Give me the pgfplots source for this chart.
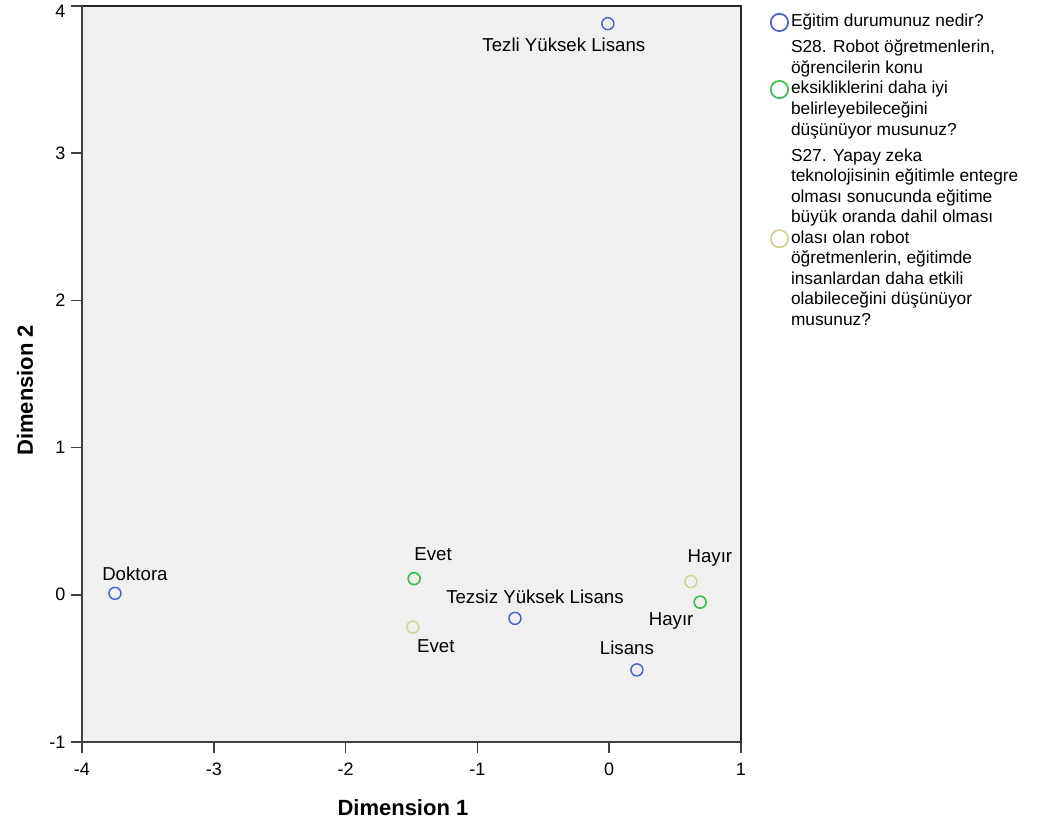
\documentclass[border=0pt]{standalone}
\usepackage{fontspec}
\setmainfont{Liberation Sans}
\usepackage{pgfplots}
\pgfplotsset{compat=1.18}
\definecolor{cblue}{RGB}{75,100,200}
\definecolor{cgreen}{RGB}{60,190,80}
\definecolor{cbeige}{RGB}{214,208,155}
\definecolor{bg}{RGB}{240,240,240}
\newcommand{\lf}{\fontsize{13pt}{15.4pt}\selectfont}
\newcommand{\pf}{\fontsize{14pt}{16pt}\selectfont}
\newsavebox\mblue \newsavebox\mgreen \newsavebox\mbeige
\sbox\mblue{\tikz[baseline=-3.25pt]\draw[cblue, line width=1.3pt] (0,0) circle (6.5pt);}
\sbox\mgreen{\tikz[baseline=-3.25pt]\draw[cgreen, line width=1.3pt] (0,0) circle (6.5pt);}
\sbox\mbeige{\tikz[baseline=-3.25pt]\draw[cbeige, line width=1.3pt] (0,0) circle (6.5pt);}
\newcommand{\entry}[1]{\parbox[c]{190pt}{\lf\raggedright\strut #1\strut}}
\begin{document}
\lf
\begin{tikzpicture}
\begin{axis}[
 scale only axis, width=494.25pt, height=552pt,
 clip=false,
 xmin=-4, xmax=1, ymin=-1, ymax=4,
 xtick={-4,-3,-2,-1,0,1}, xticklabels={-4,-3,-2,-1,0,1},
 ytick={-1,0,1,2,3}, yticklabels={-1,0,1,2,3},
 extra y ticks={4}, extra y tick labels={4},
 extra y tick style={yticklabel style={yshift=-4pt}},
 tick align=outside, major tick length=8pt,
 xtick pos=bottom, ytick pos=left,
 tick style={line width=1.3pt, black!75},
 axis background/.style={fill=bg},
 axis line style={line width=0.9pt, black!85},
 ticklabel style={font=\fontsize{13.5pt}{15pt}\selectfont},
 xticklabel style={yshift=-3.5pt},
 xlabel={Dimension 1}, ylabel={Dimension 2},
 label style={font=\fontsize{16.5pt}{18pt}\selectfont\bfseries},
 xlabel style={at={([yshift=-49.5pt]axis description cs:0.487,0)}, anchor=center},
 ylabel style={at={([xshift=-42.75pt]axis description cs:0,0.478)}, anchor=center},
 every node near coord/.append style={anchor=center, xshift=\dx pt, yshift=\dy pt, black, font=\pf},
 visualization depends on={\thisrow{dx} \as \dx},
 visualization depends on={\thisrow{dy} \as \dy},
]
\addplot[only marks, mark=o, mark size=4.5pt, cblue, line width=1.1pt,
  nodes near coords, point meta=explicit symbolic]
 table[col sep=comma, meta=label] {
x,y,label,dx,dy
-0.01,3.88,Tezli Yüksek Lisans,-33,-16
-3.75,0.01,Doktora,15,15
-0.715,-0.16,Tezsiz Yüksek Lisans,15,16.5
0.21,-0.51,Lisans,-7.5,16.5
};
\addplot[only marks, mark=o, mark size=4.5pt, cgreen, line width=1.2pt,
  nodes near coords, point meta=explicit symbolic]
 table[col sep=comma, meta=label] {
x,y,label,dx,dy
-1.48,0.11,Evet,14.25,18
0.69,-0.05,Hayır,-21.75,-14.25
};
\addplot[only marks, mark=o, mark size=4.5pt, cbeige, line width=1.2pt,
  nodes near coords, point meta=explicit symbolic]
 table[col sep=comma, meta=label] {
x,y,label,dx,dy
-1.49,-0.22,Evet,17.25,-14.25
0.62,0.09,Hayır,14.25,18
};
\draw[line width=2.2pt, black!75] (rel axis cs:0,1) -- (rel axis cs:0,0) -- (rel axis cs:1,0);
\coordinate (O) at (rel axis cs:0,0);
\coordinate (TR) at (rel axis cs:1,1);
\end{axis}
\node[anchor=north west, inner sep=0pt, align=left] at ([xshift=21.5pt, yshift=-4.6pt]TR) {%
\begin{tabular}{@{}c@{\hspace{1.5pt}}l@{}}
\usebox\mblue & \entry{Eğitim durumunuz nedir?}\\ \noalign{\vskip 4.1pt}
\usebox\mgreen & \entry{S28. Robot öğretmenlerin,\\ öğrencilerin konu\\ eksikliklerini daha iyi\\ belirleyebileceğini\\ düşünüyor musunuz?}\\ \noalign{\vskip 4.1pt}
\usebox\mbeige & \entry{S27. Yapay zeka\\ teknolojisinin eğitimle entegre\\ olması sonucunda eğitime\\ büyük oranda dahil olması\\ olası olan robot\\ öğretmenlerin, eğitimde\\ insanlardan daha etkili\\ olabileceğini düşünüyor\\ musunuz?}
\end{tabular}};
\pgfresetboundingbox
\path (O) ++(-61.5pt,-70.5pt) rectangle ++(786.75pt,627pt);
\end{tikzpicture}
\end{document}
